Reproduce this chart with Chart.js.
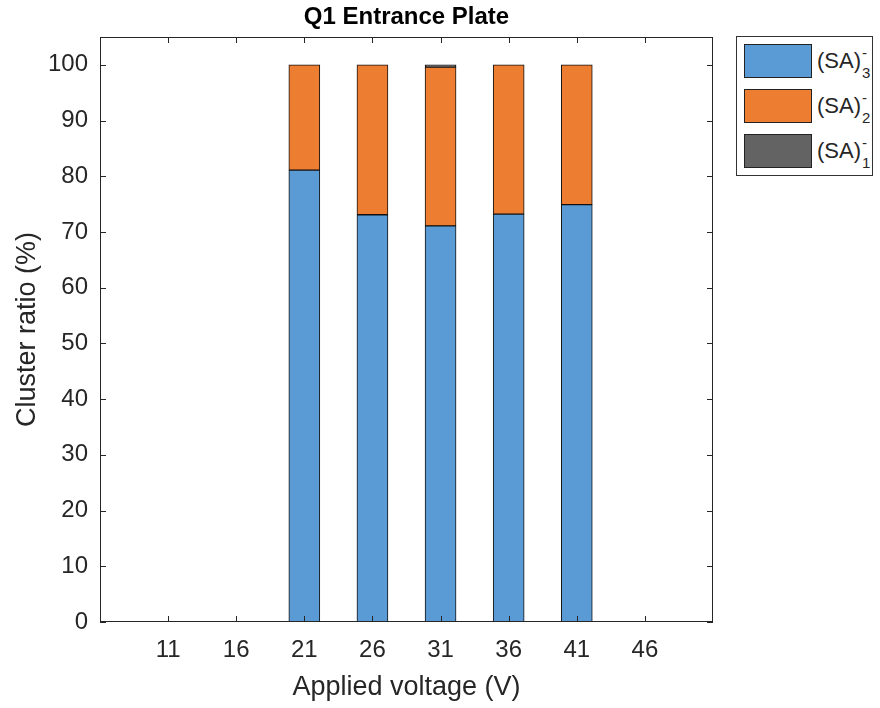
<!DOCTYPE html>
<html>
<head>
<meta charset="utf-8">
<script src="https://cdn.jsdelivr.net/npm/chart.js@4.4.1/dist/chart.umd.min.js"></script>
<style>
  html, body { margin: 0; padding: 0; background: #fff; }
  #wrap { position: relative; width: 880px; height: 708px; }
  #legend {
    position: absolute; left: 736px; top: 36px; width: 137px; height: 140px;
    border: 1px solid #333; box-sizing: border-box; background: #fff;
    font-family: "Liberation Sans", Arial, Helvetica, sans-serif; color: #262626;
  }
  .row { position: absolute; left: 0; height: 34px; width: 100%; }
  .sw { position: absolute; left: 7px; top: 0; width: 68px; height: 34px; border: 1px solid #222; box-sizing: border-box; }
  .lab { position: absolute; left: 80px; top: 6px; font-size: 22px; line-height: 22px; white-space: nowrap; }
  .ss { display: inline-block; position: relative; width: 12px; height: 22px; vertical-align: top; }
  .sp { position: absolute; left: 1px; top: -8px; font-size: 15px; }
  .sb { position: absolute; left: 1px; top: 12px; font-size: 15px; }
</style>
</head>
<body>
<div id="wrap">
  <canvas id="chart" width="880" height="708"></canvas>
  <div id="legend"></div>
</div>
<script>
// --- Data ---
const voltages = ['6', '11', '16', '21', '26', '31', '36', '41', '46', '51'];
const sa3 = [null, null, null, 81.1, 73.1, 71.1, 73.2, 74.9, null, null];
const sa2 = [null, null, null, 18.9, 26.9, 28.5, 26.8, 25.1, null, null];
const sa1 = [null, null, null, null, null, 0.4, null, null, null, null];
const seriesSubs = ['3', '2', '1'];

const colors = ['#5b9bd5', '#ed7d31', '#636363'];
const FONT = '"Liberation Sans", Arial, Helvetica, sans-serif';

// --- Box and inward ticks ---
const framePlugin = {
    id: 'frame',
    afterDatasetsDraw(chart) {
        const { ctx, chartArea: a, scales: { x, y } } = chart;
        ctx.save();
        ctx.strokeStyle = '#262626';
        ctx.lineWidth = 1;
        ctx.strokeRect(Math.round(a.left) + 0.5, Math.round(a.top) + 0.5,
            Math.round(a.right - a.left) - 1, Math.round(a.bottom - a.top) - 1);
        ctx.beginPath();
        y.ticks.forEach(t => {
            const py = Math.round(y.getPixelForValue(t.value)) + 0.5;
            ctx.moveTo(a.left, py); ctx.lineTo(a.left + 6, py);
            ctx.moveTo(a.right - 6, py); ctx.lineTo(a.right, py);
        });
        for (let i = 1; i < voltages.length - 1; i++) {
            const px = Math.round(x.getPixelForValue(i)) + 0.5;
            ctx.moveTo(px, a.bottom); ctx.lineTo(px, a.bottom - 6);
            ctx.moveTo(px, a.top); ctx.lineTo(px, a.top + 6);
        }
        ctx.stroke();
        ctx.restore();
    }
};

function buildLegend() {
    const box = document.getElementById('legend');
    seriesSubs.forEach((sub, i) => {
        const row = document.createElement('div');
        row.className = 'row';
        row.style.top = (7 + i * 45) + 'px';
        row.innerHTML = `<div class="sw" style="background:${colors[i]}"></div>` +
            `<span class="lab">(SA)<span class="ss"><span class="sp">-</span><span class="sb">${sub}</span></span></span>`;
        box.appendChild(row);
    });
}

const makeSet = (label, data, color) => ({
    label, data,
    backgroundColor: color,
    borderColor: '#111',
    borderWidth: 1,
    borderSkipped: false,
    barThickness: 31,
    stack: 's'
});

new Chart(document.getElementById('chart'), {
    type: 'bar',
    data: {
        labels: voltages,
        datasets: [
            makeSet('(SA)3-', sa3, colors[0]),
            makeSet('(SA)2-', sa2, colors[1]),
            makeSet('(SA)1-', sa1, colors[2])
        ]
    },
    options: {
        responsive: false,
        devicePixelRatio: 1,
        animation: false,
        layout: { padding: { left: 0, right: 167, top: 0, bottom: 0 } },
        plugins: {
            legend: { display: false },
            tooltip: { enabled: false },
            title: {
                display: true,
                text: 'Q1 Entrance Plate',
                fullSize: false,
                color: '#000',
                font: { family: FONT, size: 24, weight: 'bold' },
                padding: { top: 3, bottom: 5.2 }
            }
        },
        scales: {
            x: {
                stacked: true,
                offset: false,
                grid: { display: false, drawTicks: false },
                border: { display: false },
                afterFit: s => { s.height = 86; },
                ticks: {
                    autoSkip: false, maxRotation: 0, padding: 14,
                    color: '#262626',
                    font: { family: FONT, size: 24 },
                    callback: function (v, i) { return (i === 0 || i === voltages.length - 1) ? '' : this.getLabelForValue(v); }
                },
                title: {
                    display: true, text: 'Applied voltage (V)', color: '#262626',
                    font: { family: FONT, size: 27 },
                    padding: { top: 0, bottom: 4 }
                }
            },
            y: {
                stacked: true,
                min: 0, max: 105,
                grid: { display: false, drawTicks: false },
                border: { display: false },
                afterFit: s => { s.width = 100; },
                afterBuildTicks: s => { s.ticks = s.ticks.filter(t => t.value <= 100); },
                ticks: {
                    stepSize: 10, padding: 12, color: '#262626',
                    font: { family: FONT, size: 24 }
                },
                title: {
                    display: true, text: 'Cluster ratio (%)', color: '#262626',
                    font: { family: FONT, size: 27 },
                    padding: { top: 11, bottom: 0 }
                }
            }
        }
    },
    plugins: [framePlugin]
});

buildLegend();
</script>
</body>
</html>
